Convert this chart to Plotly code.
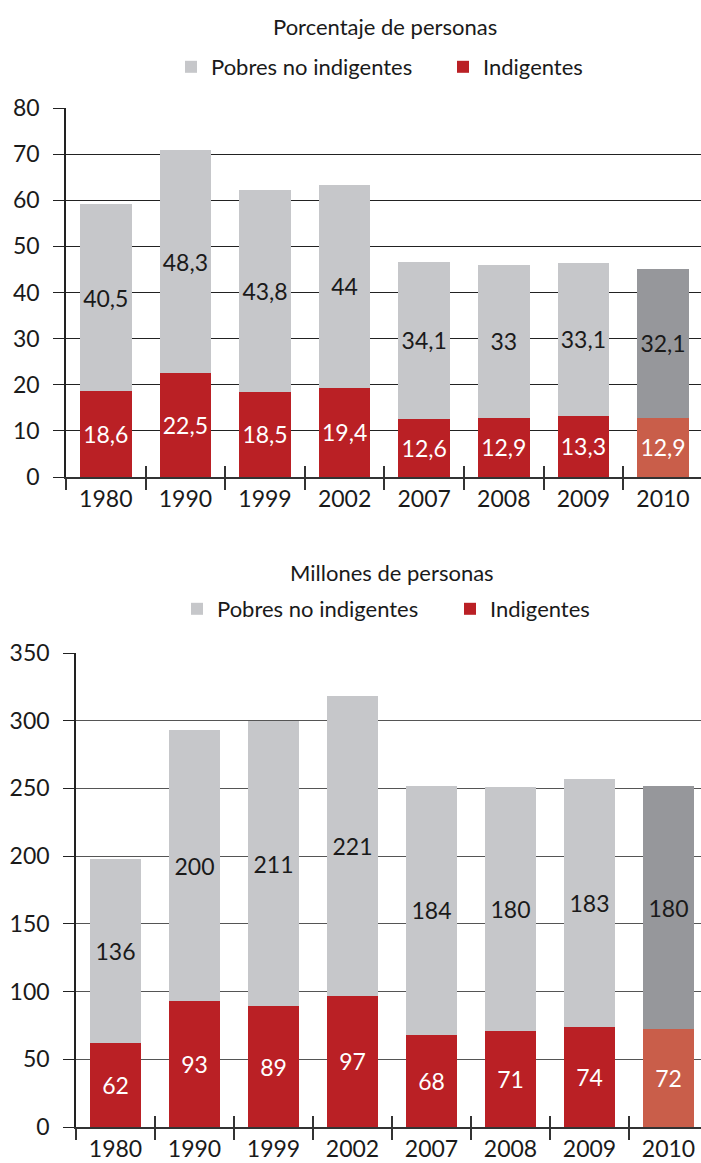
import plotly.graph_objects as go

years = ["1980", "1990", "1999", "2002", "2007", "2008", "2009", "2010"]
pct_indig = [18.6, 22.5, 18.5, 19.4, 12.6, 12.9, 13.3, 12.9]
pct_pobres = [40.5, 48.3, 43.8, 44.0, 34.1, 33.0, 33.1, 32.1]
mil_indig = [62, 93, 89, 97, 68, 71, 74, 72]
mil_pobres = [136, 200, 211, 221, 184, 180, 183, 180]

title_top = "Porcentaje de personas"
title_bot = "Millones de personas"
name_pobres = "Pobres no indigentes"
name_indig = "Indigentes"

C_GRAY = "#C6C7CA"
C_GRAY_PROJ = "#96979B"
C_RED = "#BA2025"
C_RED_PROJ = "#C95E4A"
FONT = "Lato"
TXT = "#1a1a1a"

def fmt(v):
    return ("%g" % v).replace(".", ",")

def colors(base, proj):
    return [base] * (len(years) - 1) + [proj]

W, H = 701, 1163
fig = go.Figure()

for (ind, pob, xa, ya, leg) in [
    (pct_indig, pct_pobres, "x", "y", "legend"),
    (mil_indig, mil_pobres, "x2", "y2", "legend2"),
]:
    fig.add_trace(go.Bar(
        x=years, y=ind, name=name_indig, xaxis=xa, yaxis=ya, legend=leg,
        marker=dict(color=colors(C_RED, C_RED_PROJ), line=dict(width=0)),
        text=[fmt(v) for v in ind], textposition="inside", insidetextanchor="middle",
        textfont=dict(color="white", size=23, family=FONT), textangle=0,
        legendrank=2,
    ))
    fig.add_trace(go.Bar(
        x=years, y=pob, name=name_pobres, xaxis=xa, yaxis=ya, legend=leg,
        marker=dict(color=colors(C_GRAY, C_GRAY_PROJ), line=dict(width=0)),
        text=[fmt(v) for v in pob], textposition="inside", insidetextanchor="middle",
        textfont=dict(color=TXT, size=23, family=FONT), textangle=0,
        legendrank=1,
    ))

n = len(years)
top_dom_x = [66 / W, 1]
bot_dom_x = [76 / W, 1]
top_dom_y = [1 - 477 / H, 1 - 108 / H]
bot_dom_y = [1 - 1127 / H, 1 - 653 / H]
top_rng = [-0.5, -0.5 + (W - 66) / 79.6]
bot_rng = [-0.5, -0.5 + (W - 76) / 79.0]
bounds = [i - 0.5 for i in range(n + 1)]

xcommon = dict(type="category", tickson="boundaries", ticks="outside", ticklen=11,
               tickcolor="#333", tickwidth=1.5, showline=True, linecolor="#333", linewidth=2,
               tickfont=dict(size=23, color=TXT, family=FONT), showgrid=False, fixedrange=True,
               automargin=False)
ycommon = dict(showline=True, linecolor="#222", linewidth=1.5, ticks="outside", ticklen=11,
               tickcolor="#222", tickwidth=1, showgrid=True, gridwidth=1,
               tickfont=dict(size=23, color=TXT, family=FONT), zeroline=False, ticklabelstandoff=9,
               automargin=False, fixedrange=True)
xover = dict(tickmode="array", tickvals=bounds, ticks="inside", ticklen=11, tickcolor="#333",
             tickwidth=1.5, showticklabels=False, showgrid=False, showline=False, zeroline=False,
             automargin=False, fixedrange=True)

fig.update_layout(
    width=W, height=H, margin=dict(l=0, r=0, t=0, b=0, autoexpand=False),
    paper_bgcolor="white", plot_bgcolor="white",
    barmode="stack", bargap=0.35,
    font=dict(family=FONT, color=TXT, size=22),
    xaxis=dict(xcommon, domain=top_dom_x, anchor="y", range=top_rng),
    yaxis=dict(ycommon, domain=top_dom_y, anchor="x", range=[0, 80], dtick=10, gridcolor="#222"),
    xaxis2=dict(xcommon, domain=bot_dom_x, anchor="y2", range=bot_rng),
    yaxis2=dict(ycommon, domain=bot_dom_y, anchor="x2", range=[0, 350], dtick=50, gridcolor="#555"),
    xaxis3=dict(xover, overlaying="x", anchor="y", domain=top_dom_x, range=top_rng),
    xaxis4=dict(xover, overlaying="x2", anchor="y2", domain=bot_dom_x, range=bot_rng),
    legend=dict(orientation="h", x=171 / W, xanchor="left", y=1 - 67 / H, yanchor="middle",
                font=dict(size=22, color=TXT, family=FONT), traceorder="normal",
                entrywidth=227, bgcolor="rgba(0,0,0,0)"),
    legend2=dict(orientation="h", x=177 / W, xanchor="left", y=1 - 609 / H, yanchor="middle",
                 font=dict(size=22, color=TXT, family=FONT), traceorder="normal",
                 entrywidth=228, bgcolor="rgba(0,0,0,0)"),
    annotations=[
        dict(text=title_top, xref="paper", yref="paper", x=385 / W, y=1 - 27 / H,
             xanchor="center", yanchor="middle", showarrow=False, font=dict(size=22, color=TXT, family=FONT)),
        dict(text=title_bot, xref="paper", yref="paper", x=392 / W, y=1 - 572 / H,
             xanchor="center", yanchor="middle", showarrow=False, font=dict(size=22, color=TXT, family=FONT)),
    ],
)
fig.add_trace(go.Scatter(x=[None], y=[None], xaxis="x3", yaxis="y", showlegend=False, hoverinfo="skip"))
fig.add_trace(go.Scatter(x=[None], y=[None], xaxis="x4", yaxis="y2", showlegend=False, hoverinfo="skip"))

fig.write_html("out.html", config={"displayModeBar": False},
               post_script="document.body.style.margin='0';document.body.style.overflow='hidden';")
